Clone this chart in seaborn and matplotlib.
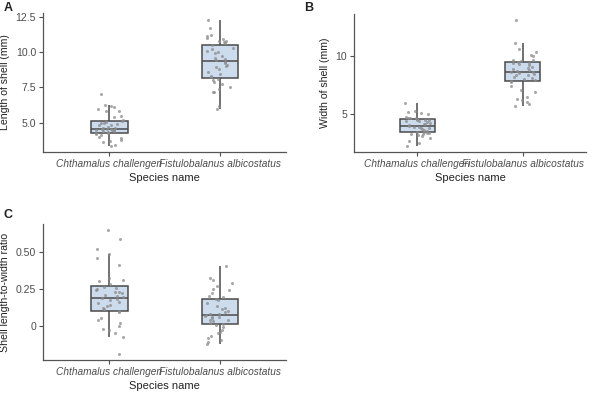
import numpy as np
import pandas as pd
import matplotlib
matplotlib.use('Agg')
import matplotlib.pyplot as plt
import seaborn as sns

species = ['Chthamalus challengeri', 'Fistulobalanus albicostatus']

# shell length (mm)
length_cc = [3.37, 3.45, 3.6, 3.7, 3.8, 3.9, 4.0, 4.1, 4.2, 4.25,
             4.3, 4.35, 4.4, 4.4, 4.45, 4.5, 4.5, 4.52, 4.55, 4.55,
             4.6, 4.65, 4.7, 4.8, 4.85, 4.9, 4.95, 5.0, 5.05, 5.1,
             5.2, 5.4, 5.5, 5.8, 5.85, 6.0, 6.1, 6.2, 6.23, 7.0]
length_fa = [6.0, 6.2, 7.15, 7.2, 7.4, 7.5, 7.7, 7.9, 8.0, 8.1,
             8.2, 8.3, 8.45, 8.6, 8.8, 8.9, 9.0, 9.1, 9.2, 9.3,
             9.4, 9.5, 9.6, 9.7, 9.9, 10.0, 10.1, 10.2, 10.3, 10.5,
             10.6, 10.7, 10.8, 10.8, 10.9, 11.0, 11.1, 11.2, 11.7, 12.27]

# shell width (mm), panel B
width_cc = [2.3, 2.5, 2.75, 3.0, 3.1, 3.2, 3.3, 3.35, 3.4, 3.42,
            3.45, 3.5, 3.6, 3.65, 3.7, 3.8, 3.85, 3.9, 3.95, 4.0,
            4.08, 4.15, 4.2, 4.3, 4.35, 4.4, 4.45, 4.5, 4.5, 4.55,
            4.6, 4.65, 4.7, 4.7, 4.8, 5.0, 5.1, 5.2, 5.3, 6.0]
width_fa = [5.7, 5.9, 6.1, 6.2, 6.3, 6.5, 6.9, 7.1, 7.4, 7.75,
            7.85, 7.95, 8.05, 8.15, 8.25, 8.35, 8.4, 8.5, 8.55, 8.6,
            8.66, 8.7, 8.8, 8.9, 9.0, 9.1, 9.2, 9.3, 9.4, 9.45,
            9.5, 9.6, 9.65, 9.7, 10.0, 10.1, 10.4, 10.6, 11.1, 13.1]

# length-to-width ratio, panel C
ratio_cc = [-0.19, -0.078, -0.05, -0.03, -0.02, 0.0, 0.02, 0.04, 0.05, 0.09,
            0.1, 0.11, 0.12, 0.13, 0.14, 0.15, 0.16, 0.17, 0.18, 0.185,
            0.193, 0.2, 0.21, 0.22, 0.225, 0.23, 0.24, 0.25, 0.255, 0.26,
            0.28, 0.3, 0.31, 0.32, 0.41, 0.46, 0.486, 0.52, 0.585, 0.645]
ratio_fa = [-0.125, -0.11, -0.1, -0.085, -0.07, -0.05, -0.04, -0.03, -0.01, 0.005,
            0.013, 0.02, 0.03, 0.035, 0.04, 0.05, 0.055, 0.06, 0.065, 0.07,
            0.076, 0.08, 0.09, 0.1, 0.11, 0.12, 0.13, 0.15, 0.17, 0.18,
            0.19, 0.2, 0.22, 0.24, 0.25, 0.27, 0.29, 0.31, 0.32, 0.405]

df = pd.DataFrame({
    'species': [species[0]] * len(length_cc) + [species[1]] * len(length_fa),
    'length': length_cc + length_fa,
    'width': width_cc + width_fa,
    'ratio': ratio_cc + ratio_fa,
})

sns.set_style('white')
plt.rcParams['font.family'] = ['Liberation Sans', 'DejaVu Sans']

box_fill = '#c6dcf2'
line_col = '#4a4a4a'
text_col = '#4d4d4d'

fig = plt.figure(figsize=(6, 3.95), dpi=100)

panels = [
    ('A', 'length', 'Length of shell (mm)', [0.0717, 0.615, 0.405, 0.352],
     [5.0, 7.5, 10.0, 12.5], ['5.0', '7.5', '10.0', '12.5'], (2.92, 12.75), (0.006, 0.995)),
    ('B', 'width', 'Width of shell (mm)', [0.59, 0.615, 0.387, 0.35],
     [5, 10], ['5', '10'], (1.76, 13.64), (0.507, 0.995)),
    ('C', 'ratio', 'Shell length-to-width ratio', [0.0717, 0.088, 0.405, 0.344],
     [0, 0.25, 0.5], ['0', '0.25', '0.50'], (-0.234, 0.684), (0.006, 0.47)),
]

np.random.seed(3)
for letter, col, ylab, pos, yt, ytl, ylim, lpos in panels:
    ax = fig.add_axes(pos)
    sns.boxplot(data=df, x='species', y=col, ax=ax, order=species,
                width=0.33, color=box_fill, linecolor=line_col, linewidth=1.1,
                showfliers=False, showcaps=False, whis=1.5, zorder=2)
    sns.stripplot(data=df, x='species', y=col, ax=ax, order=species,
                  jitter=0.13, size=2.2, color='#8c8c8c', alpha=0.75,
                  linewidth=0, zorder=3)
    ax.set_xlim(-0.6, 1.6)
    ax.set_ylim(*ylim)
    ax.set_yticks(yt)
    ax.set_yticklabels(ytl)
    ax.set_xlabel('Species name', fontsize=8, color='#222222', labelpad=3)
    ax.set_ylabel(ylab, fontsize=7.6, color='#222222', labelpad=4)
    for t in ax.get_xticklabels():
        t.set_fontstyle('italic')
        t.set_fontsize(7.3)
    ax.tick_params(axis='y', labelsize=7.6)
    ax.tick_params(axis='both', colors=text_col, length=3,
                   width=0.8, direction='out', bottom=True, left=True, pad=2)
    ax.tick_params(axis='both', labelcolor=text_col)
    sns.despine(ax=ax)
    for s in ['left', 'bottom']:
        ax.spines[s].set_color('#555555')
        ax.spines[s].set_linewidth(0.9)
    fig.text(lpos[0], lpos[1], letter,
             fontsize=9, fontweight='bold', color='#222222', va='top', ha='left')

fig.savefig('out.png', dpi=100)
